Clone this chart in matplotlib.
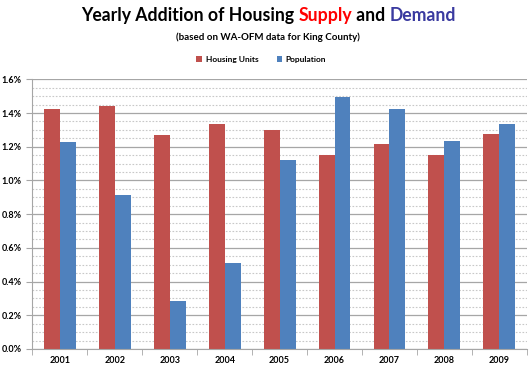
import numpy as np
import matplotlib
matplotlib.use('Agg')
import matplotlib.pyplot as plt
from matplotlib.ticker import FuncFormatter, MultipleLocator

years = ['2001', '2002', '2003', '2004', '2005', '2006', '2007', '2008', '2009']
housing_units = [1.424, 1.440, 1.272, 1.337, 1.297, 1.149, 1.214, 1.151, 1.276]
population = [1.230, 0.912, 0.283, 0.510, 1.123, 1.497, 1.422, 1.232, 1.335]

red = '#C0504D'
blue = '#4F81BD'
plt.rcParams['font.family'] = ['Lato', 'DejaVu Sans']
plt.rcParams['font.weight'] = 'bold'

fig = plt.figure(figsize=(5.3, 3.76), dpi=100)
ax = fig.add_axes([0.061, 0.072, 0.933, 0.717])

x = np.arange(len(years))
w = 0.29
ax.bar(x - w / 2, housing_units, w, color=red, label='Housing Units')
ax.bar(x + w / 2, population, w, color=blue, label='Population')

ax.set_xlim(-0.5, len(years) - 0.5)
ax.set_ylim(0, 1.6)
ax.yaxis.set_major_locator(MultipleLocator(0.2))
ax.yaxis.set_minor_locator(MultipleLocator(0.05))
ax.yaxis.set_major_formatter(FuncFormatter(lambda v, p: f'{v:.1f}%'))
ax.grid(axis='y', which='major', color='#A6A6A6', linewidth=0.9)
ax.grid(axis='y', which='minor', color='#C8C8C8', linewidth=0.8, linestyle=(0, (1.5, 1.5)))
ax.set_axisbelow(True)

ax.set_xticks(x)
ax.set_xticklabels(years)
ax.set_xticks(np.arange(-0.5, len(years)), minor=True)
ax.tick_params(axis='x', which='major', length=0, labelsize=6.5, pad=5)
ax.tick_params(axis='x', which='minor', length=4, color='#A6A6A6')
ax.tick_params(axis='y', which='major', length=4, color='#A6A6A6', labelsize=6.5)
ax.tick_params(axis='y', which='minor', length=0)
for s in ['top', 'right']:
    ax.spines[s].set_visible(False)
for s in ['left', 'bottom']:
    ax.spines[s].set_color('#A6A6A6')

ax.legend(loc='upper center', bbox_to_anchor=(0.463, 1.115), ncol=2, frameon=False,
          prop={'size': 6, 'weight': 'bold'}, handlelength=0.7, handleheight=0.7,
          columnspacing=2.2, handletextpad=0.4)

fig.text(0.505, 0.9, '(based on WA-OFM data for King County)', ha='center',
         va='center', fontsize=7, fontweight='bold')

# title with coloured words
parts = [('Yearly Addition of Housing ', 'black'), ('Supply', '#FF0000'),
         (' and ', 'black'), ('Demand', '#3A3AA0')]
fig.canvas.draw()
r = fig.canvas.get_renderer()
texts = []
for s, c in parts:
    t = fig.text(0, 0.958, s, color=c, fontsize=12.7, fontweight='bold', va='center')
    texts.append(t)
widths = [t.get_window_extent(r).width for t in texts]
total = sum(widths)
xpos = (fig.bbox.width - total) / 2 + 4
for t, wd in zip(texts, widths):
    t.set_x(xpos / fig.bbox.width)
    xpos += wd

fig.savefig('out.png', dpi=100)
